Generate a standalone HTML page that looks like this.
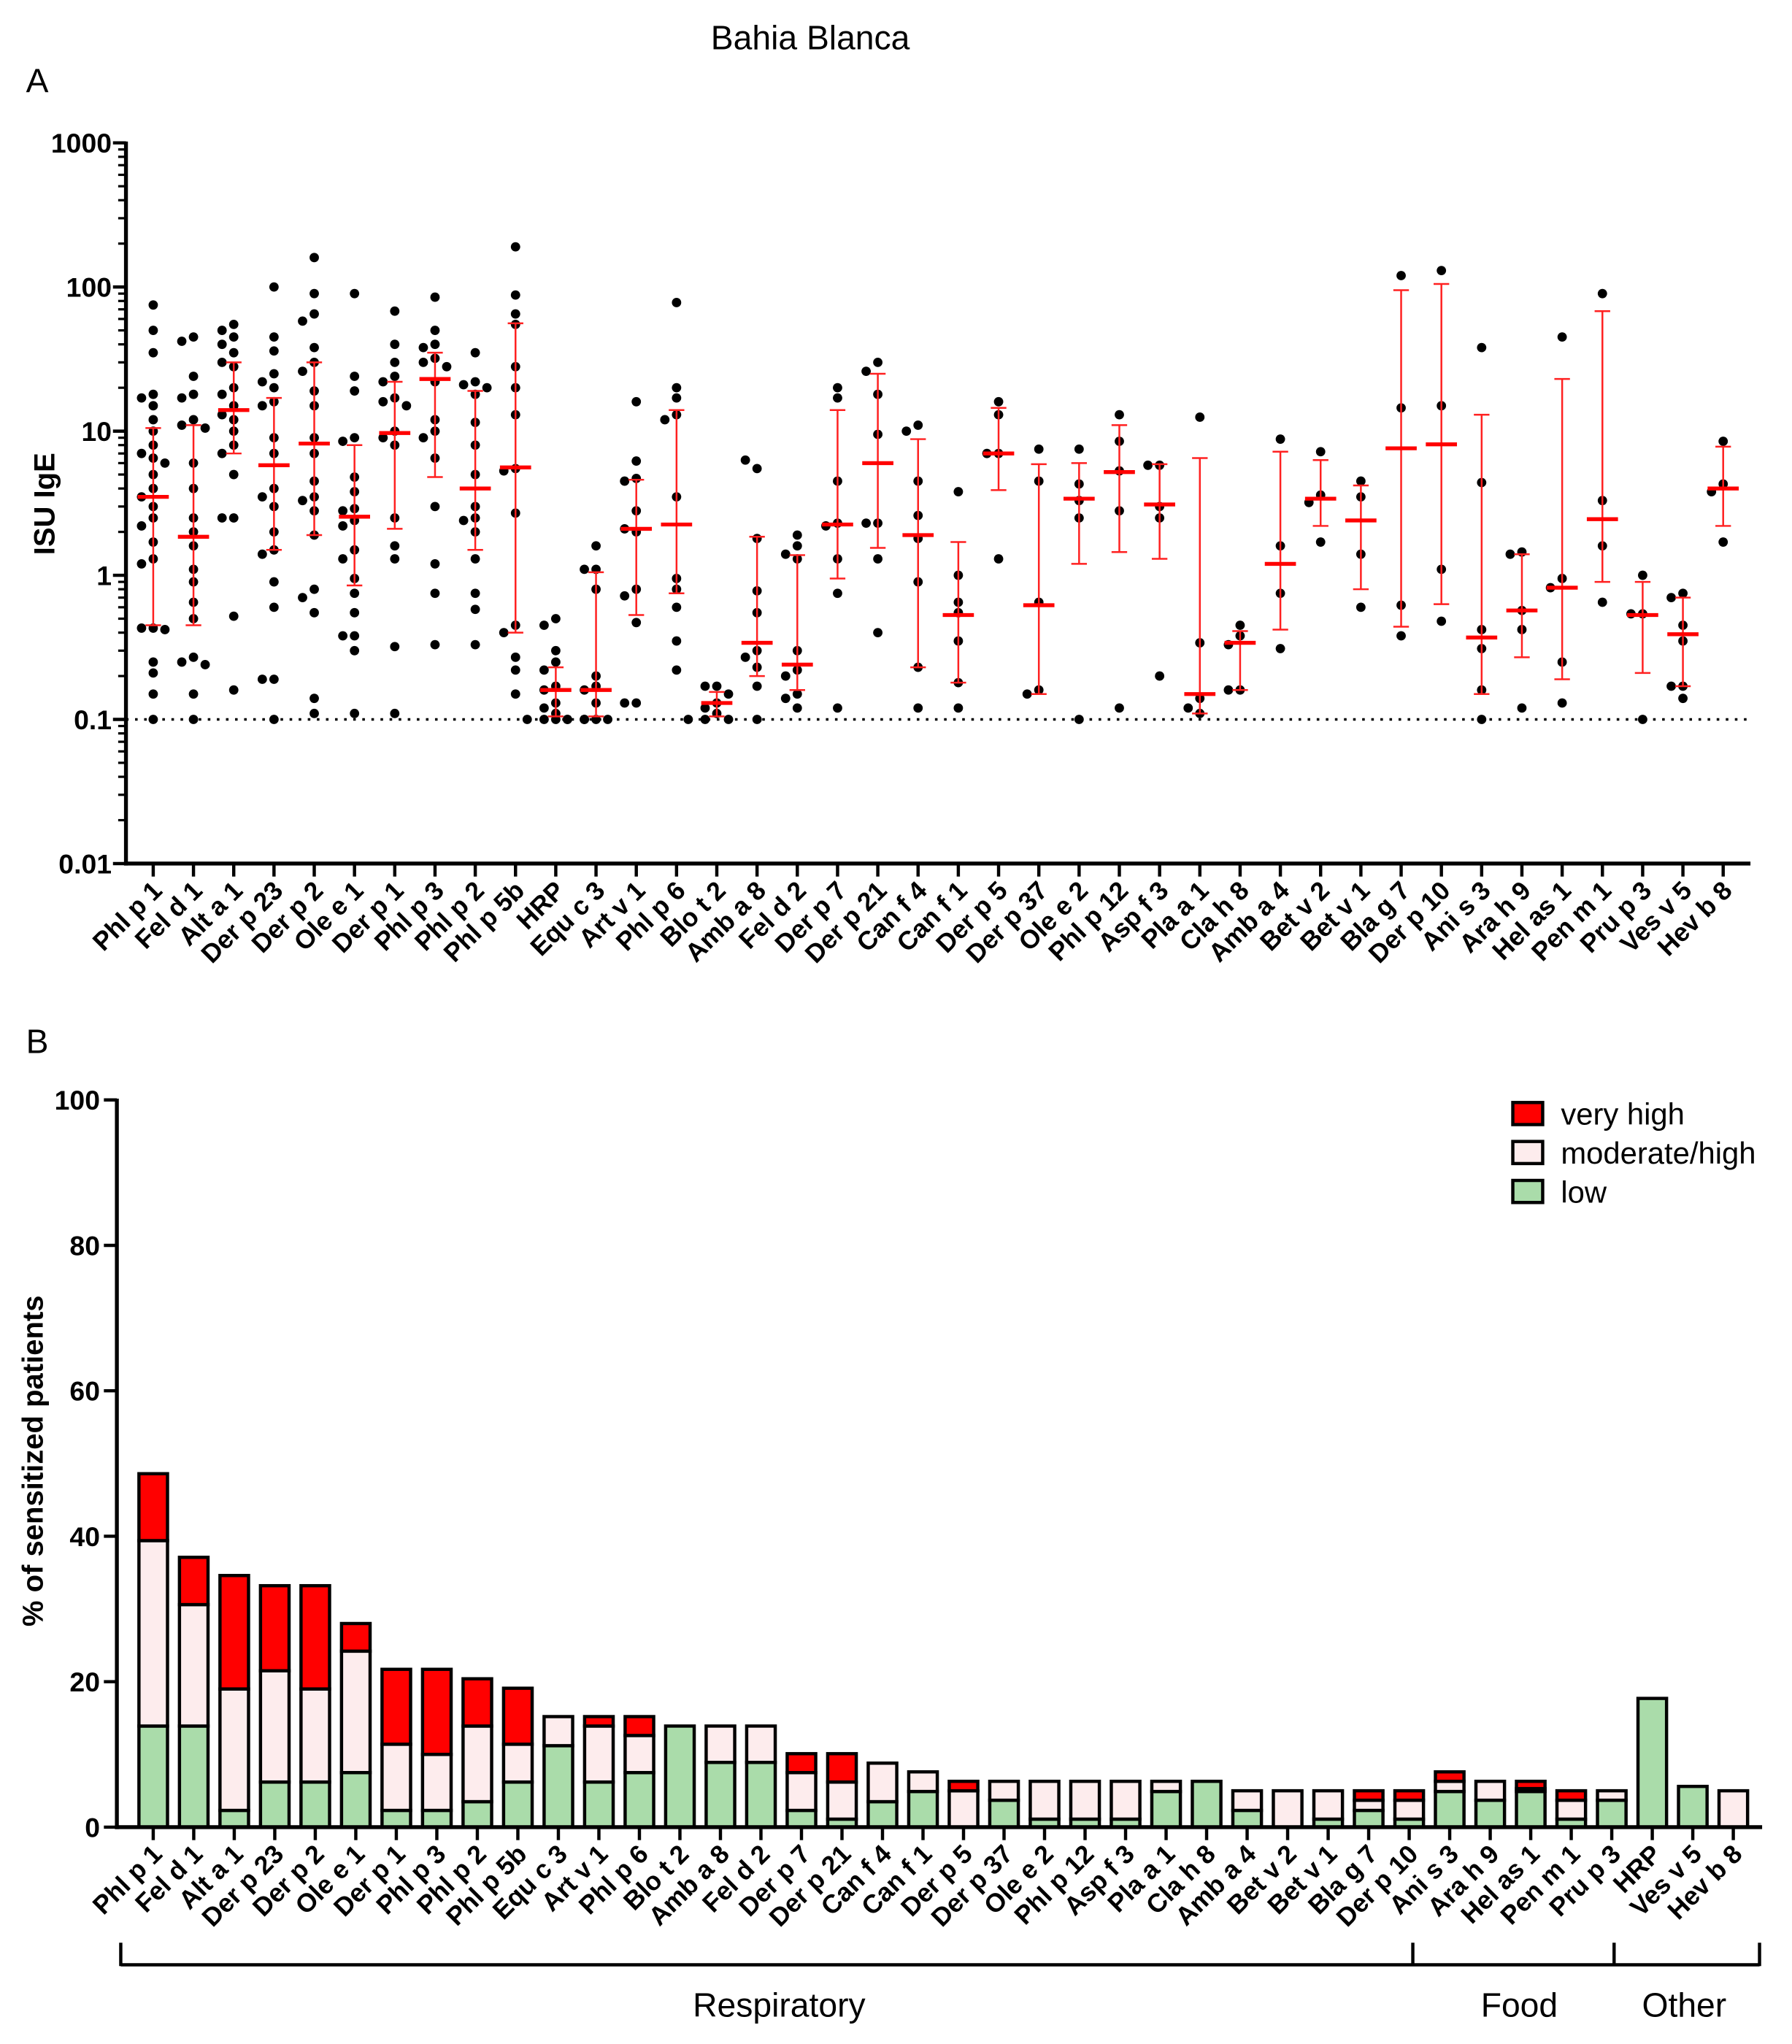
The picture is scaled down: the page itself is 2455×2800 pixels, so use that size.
<!DOCTYPE html>
<html><head><meta charset="utf-8"><style>
html,body{margin:0;padding:0;background:#fff;}
svg{display:block;}
text{font-family:"Liberation Sans",Arial,sans-serif;fill:#000;}
</style></head><body>
<svg id="chart" width="2455" height="2800" viewBox="0 0 1380 1574" preserveAspectRatio="none" xmlns="http://www.w3.org/2000/svg">
<text x="624" y="38" font-size="26" text-anchor="middle">Bahia Blanca</text>
<text x="20" y="71" font-size="26">A</text>
<text x="20" y="811" font-size="26">B</text>
<g id="panelA"></g>
<g id="panelB"></g>
</svg>
<script>
// ---------- Panel A data ----------
const catsA = ["Phl p 1","Fel d 1","Alt a 1","Der p 23","Der p 2","Ole e 1","Der p 1","Phl p 3","Phl p 2","Phl p 5b","HRP","Equ c 3","Art v 1","Phl p 6","Blo t 2","Amb a 8","Fel d 2","Der p 7","Der p 21","Can f 4","Can f 1","Der p 5","Der p 37","Ole e 2","Phl p 12","Asp f 3","Pla a 1","Cla h 8","Amb a 4","Bet v 2","Bet v 1","Bla g 7","Der p 10","Ani s 3","Ara h 9","Hel as 1","Pen m 1","Pru p 3","Ves v 5","Hev b 8"];
const medians = [3.5,1.85,14,5.8,8.2,2.55,9.7,23,4,5.6,0.16,0.16,2.1,2.25,0.13,0.34,0.24,2.25,6,1.9,0.53,7,0.62,3.4,5.2,3.1,0.15,0.34,1.2,3.4,2.4,7.6,8.1,0.37,0.57,0.82,2.45,0.53,0.39,4];
const errLow = [0.45,0.45,7,1.5,1.9,0.85,2.1,4.8,1.5,0.4,0.105,0.105,0.53,0.75,0.105,0.2,0.16,0.95,1.55,0.23,0.18,3.9,0.15,1.2,1.45,1.3,0.11,0.16,0.42,2.2,0.8,0.44,0.63,0.15,0.27,0.19,0.9,0.21,0.17,2.2];
const errHigh = [10.5,11,30,17,30,8,22,35,19,56,0.23,1.05,4.6,14,0.155,1.85,1.38,14,25,8.8,1.7,14.5,5.9,6,11,5.9,6.5,0.41,7.2,6.3,4.2,95,105,13,1.4,23,68,0.9,0.7,7.8];
const points = [
[75,50,35,18,17,15,12,10,8,7,6.5,6,5,4,3.5,3,2.5,2.2,1.7,1.3,1.2,0.43,0.43,0.42,0.25,0.21,0.15,0.1],
[45,42,24,18,17,12,11,10.5,6,4,2.5,2,1.6,1.1,0.9,0.65,0.5,0.27,0.25,0.24,0.15,0.1],
[55,50,45,40,35,30,28,20,18,15,13,12,10,8,7,5,2.5,2.5,0.52,0.16],
[100,45,36,25,22,20,16,15,9,7,4,3.5,3,2,1.5,1.4,0.9,0.6,0.19,0.19,0.1],
[160,90,65,58,38,30,26,19,15,9,7,4.5,3.5,3.3,2.8,1.9,0.8,0.7,0.55,0.14,0.11],
[90,24,19,9,8.5,4.8,3.8,2.9,2.8,2.4,2.2,1.5,1.3,0.95,0.75,0.55,0.38,0.38,0.3,0.11],
[68,40,30,24,22,17,16,15,10,9,8,2.5,1.6,1.3,0.32,0.11],
[85,50,40,38,32,30,28,22,12,10,9,6.5,3,1.2,0.75,0.33],
[35,22,21,20,18,11.5,8,5,3,2.5,2.4,2,1.3,0.75,0.58,0.33],
[190,88,65,55,28,20,13,5.5,5.3,2.7,0.45,0.4,0.27,0.22,0.15],
[0.5,0.45,0.3,0.25,0.22,0.17,0.16,0.13,0.12,0.11,0.1,0.1,0.1,0.1,0.1],
[1.6,1.1,1.1,0.8,0.2,0.17,0.16,0.13,0.1,0.1,0.1,0.1],
[16,6.2,4.7,4.5,2.8,2.0,2.1,0.8,0.72,0.47,0.13,0.13],
[78,20,17,13,12,3.5,0.95,0.8,0.6,0.35,0.22],
[0.17,0.17,0.15,0.13,0.12,0.11,0.1,0.1,0.1],
[5.5,6.3,1.8,0.78,0.55,0.3,0.27,0.23,0.17,0.1],
[1.6,1.4,1.3,1.9,0.3,0.22,0.2,0.15,0.14,0.12],
[20,17,4.5,2.3,2.2,1.3,0.75,0.12],
[30,26,18,9.5,2.3,2.3,1.3,0.4],
[11,10,4.5,2.6,1.8,0.9,0.23,0.12],
[3.8,1.0,0.65,0.55,0.35,0.18,0.12],
[16,13,7,7,1.3],
[7.5,4.5,0.65,0.16,0.15],
[7.5,4.3,3.3,2.5,0.1],
[13,8.5,5.3,2.8,0.12],
[5.8,5.8,3.0,2.5,0.2],
[12.5,0.34,0.14,0.12,0.11],
[0.45,0.38,0.33,0.16,0.16],
[8.8,1.6,0.75,0.31],
[7.2,3.6,3.2,1.7],
[4.5,3.5,1.4,0.6],
[120,14.5,0.62,0.38],
[130,15,1.1,0.48],
[38,4.4,0.42,0.31,0.16,0.1],
[1.45,1.4,0.57,0.42,0.12],
[45,0.95,0.82,0.25,0.13],
[90,3.3,1.6,0.65],
[1.0,0.54,0.54,0.1],
[0.75,0.7,0.45,0.35,0.17,0.17,0.14],
[8.5,4.3,3.8,1.7]
];
const ticksA = [1000,100,10,1,0.1,0.01];
const tickLabelsA = ["1000","100","10","1","0.1","0.01"];

// ---------- Panel B data ----------
const catsB = ["Phl p 1","Fel d 1","Alt a 1","Der p 23","Der p 2","Ole e 1","Der p 1","Phl p 3","Phl p 2","Phl p 5b","Equ c 3","Art v 1","Phl p 6","Blo t 2","Amb a 8","Fel d 2","Der p 7","Der p 21","Can f 4","Can f 1","Der p 5","Der p 37","Ole e 2","Phl p 12","Asp f 3","Pla a 1","Cla h 8","Amb a 4","Bet v 2","Bet v 1","Bla g 7","Der p 10","Ani s 3","Ara h 9","Hel as 1","Pen m 1","Pru p 3","HRP","Ves v 5","Hev b 8"];
const lowVals = [13.9,13.9,2.3,6.2,6.2,7.5,2.3,2.3,3.5,6.2,11.2,6.2,7.5,13.9,8.9,8.9,2.3,1.1,3.5,4.9,0,3.7,1.1,1.1,1.1,4.9,6.3,2.3,0,1.1,2.3,1.1,4.9,3.7,4.9,1.1,3.7,17.7,5.6,0];
const modVals = [25.5,16.7,16.7,15.3,12.8,16.7,9.1,7.7,10.4,5.2,4.0,7.7,5.1,0,5.0,5.0,5.2,5.1,5.3,2.7,5.0,2.6,5.2,5.2,5.2,1.4,0,2.7,5.0,3.9,1.4,2.6,1.4,2.6,0.4,2.6,1.3,0,0,5.0];
const highVals = [9.2,6.5,15.6,11.7,14.2,3.8,10.3,11.7,6.5,7.7,0,1.3,2.6,0,0,0,2.6,3.9,0,0,1.3,0,0,0,0,0,0,0,0,0,1.3,1.3,1.3,0,1.0,1.3,0,0,0,0];
const ticksB = [0,20,40,60,80,100];
const groupNames = ["Respiratory","Food","Other"];

const NS = "http://www.w3.org/2000/svg";
function mk(parent, tag, attrs, txt){
  const e = document.createElementNS(NS, tag);
  for (const k in attrs) e.setAttribute(k, attrs[k]);
  if (txt !== undefined) e.textContent = txt;
  parent.appendChild(e);
  return e;
}

// ---------- Panel A ----------
const gA = document.getElementById('panelA');
const axA = {x0:97, x1:1348, yTop:110, yBot:665, first:118, step:31.0};
function yA(v){ return axA.yBot - (Math.log10(v) + 2) * (axA.yBot - axA.yTop) / 5; }
function xA(i){ return axA.first + i * axA.step; }

let el = mk(gA,'line',{x1:axA.x0,x2:axA.x1,y1:yA(0.1),y2:yA(0.1),stroke:'#000','stroke-width':2,'stroke-dasharray':'2 5'});



catsA.forEach((c,i)=>{
  const x = xA(i);
  const g = mk(gA,'g',{});
  
  
  const placed = [];
  points[i].forEach(v=>{
    const y = yA(v);
    const offs = [0,-9,9,-16,16,-22,22];
    let dx = 0;
    for (const o of offs){
      if (placed.every(p=>Math.hypot(p[0]-o,p[1]-y) >= 7.5)){ dx=o; break; }
    }
    placed.push([dx,y]);
    const d = mk(g,'circle',{cx:x+dx,cy:y,r:3.6,fill:'#000'});
    
    
  });
  const ylo = yA(errLow[i]), yhi = yA(errHigh[i]);
  const e1 = mk(g,'line',{x1:x,x2:x,y1:ylo,y2:yhi,stroke:'#ff2020','stroke-width':1.4});
  
  
  const e2 = mk(g,'line',{x1:x-6,x2:x+6,y1:ylo,y2:ylo,stroke:'#ff2020','stroke-width':1.4});
  
  
  const e3 = mk(g,'line',{x1:x-6,x2:x+6,y1:yhi,y2:yhi,stroke:'#ff2020','stroke-width':1.4});
  
  
  const m = mk(g,'line',{x1:x-12,x2:x+12,y1:yA(medians[i]),y2:yA(medians[i]),stroke:'#ff0000','stroke-width':3});
  
  
  const t = mk(gA,'line',{x1:x,x2:x,y1:axA.yBot,y2:axA.yBot+10,stroke:'#000','stroke-width':2.5});
  
  
  const lb = mk(gA,'text',{x:0,y:0,'font-size':20,'font-weight':'bold','text-anchor':'end',transform:`translate(${x+8},${axA.yBot+22}) rotate(-45)`},c);
  
  
});
el = mk(gA,'line',{x1:axA.x0,x2:axA.x0,y1:axA.yTop-1,y2:axA.yBot+1.5,stroke:'#000','stroke-width':3});


el = mk(gA,'line',{x1:axA.x0-1.5,x2:axA.x1,y1:axA.yBot,y2:axA.yBot,stroke:'#000','stroke-width':3});


ticksA.forEach((v,k)=>{
  const y = yA(v);
  const t = mk(gA,'line',{x1:axA.x0-10,x2:axA.x0,y1:y,y2:y,stroke:'#000','stroke-width':2.5});
  
  
  const l = mk(gA,'text',{x:axA.x0-11,y:y+7.5,'font-size':21,'font-weight':'bold','text-anchor':'end'},tickLabelsA[k]);
  
  
  if (v < 1000){
    for (let m=2;m<=9;m++){
      const yy = yA(v*m);
      const mt = mk(gA,'line',{x1:axA.x0-6,x2:axA.x0,y1:yy,y2:yy,stroke:'#000','stroke-width':1.8});
      
      
    }
  }
});
el = mk(gA,'text',{x:0,y:0,'font-size':22.5,'font-weight':'bold','text-anchor':'middle',transform:'translate(42,388) rotate(-90)'},'ISU IgE');



// ---------- Panel B ----------
const gB = document.getElementById('panelB');
const axB = {x0:90, x1:1357, yTop:847, yBot:1407, first:118, step:31.2, bw:22};
function yB(v){ return axB.yBot - v * (axB.yBot - axB.yTop) / 100; }
function xB(i){ return axB.first + i * axB.step; }
const fills = ['#aadcaa','#fdeced','#ff0000'];
catsB.forEach((c,i)=>{
  const x = xB(i) - axB.bw/2;
  const g = mk(gB,'g',{});
  
  
  const segs = [lowVals[i], modVals[i], highVals[i]];
  const names = ['segment-low','segment-moderate-high','segment-very-high'];
  let base = 0;
  segs.forEach((v,k)=>{
    if (v <= 0) return;
    const r = mk(g,'rect',{x:x,y:yB(base+v),width:axB.bw,height:yB(base)-yB(base+v),fill:fills[k],stroke:'#000','stroke-width':2.5});
    
    
    base += v;
  });
  const t = mk(gB,'line',{x1:xB(i),x2:xB(i),y1:axB.yBot,y2:axB.yBot+10,stroke:'#000','stroke-width':2.5});
  
  
  const lb = mk(gB,'text',{x:0,y:0,'font-size':20,'font-weight':'bold','text-anchor':'end',transform:`translate(${xB(i)+8},${axB.yBot+22}) rotate(-45)`},c);
  
  
});
el = mk(gB,'line',{x1:axB.x0,x2:axB.x0,y1:axB.yTop-1,y2:axB.yBot+1.5,stroke:'#000','stroke-width':3});


el = mk(gB,'line',{x1:axB.x0-1.5,x2:axB.x1,y1:axB.yBot,y2:axB.yBot,stroke:'#000','stroke-width':3});


ticksB.forEach(v=>{
  const y = yB(v);
  const t = mk(gB,'line',{x1:axB.x0-10,x2:axB.x0,y1:y,y2:y,stroke:'#000','stroke-width':2.5});
  
  
  const l = mk(gB,'text',{x:axB.x0-13,y:y+7.5,'font-size':21,'font-weight':'bold','text-anchor':'end'},String(v));
  
  
});
el = mk(gB,'text',{x:0,y:0,'font-size':22.5,'font-weight':'bold','text-anchor':'middle',transform:'translate(33,1125) rotate(-90)'},'% of sensitized patients');



const brY = 1513, brTop = 1496;
const brX = [93,1088,1243,1355];
el = mk(gB,'line',{x1:brX[0],x2:brX[3],y1:brY,y2:brY,stroke:'#000','stroke-width':2.5});


brX.forEach(bx=>{
  const v = mk(gB,'line',{x1:bx,x2:bx,y1:brTop,y2:brY+1,stroke:'#000','stroke-width':2.5});
  
  
});
const groupCx = [600,1170,1297];
groupNames.forEach((n,k)=>{
  const t = mk(gB,'text',{x:groupCx[k],y:1553,'font-size':26,'text-anchor':'middle'},n);
  
  
});

const legNames = ['very high','moderate/high','low'];
const legFills = ['#ff0000','#fdeced','#aadcaa'];
const leg = mk(gB,'g',{});


legNames.forEach((n,k)=>{
  const y = 849 + k*30;
  const r = mk(leg,'rect',{x:1165,y:y,width:23,height:17,fill:legFills[k],stroke:'#000','stroke-width':2.5});
  
  
  const t = mk(leg,'text',{x:1202,y:y+17,'font-size':23.5},n);
  
  
});
</script>
</body></html>
